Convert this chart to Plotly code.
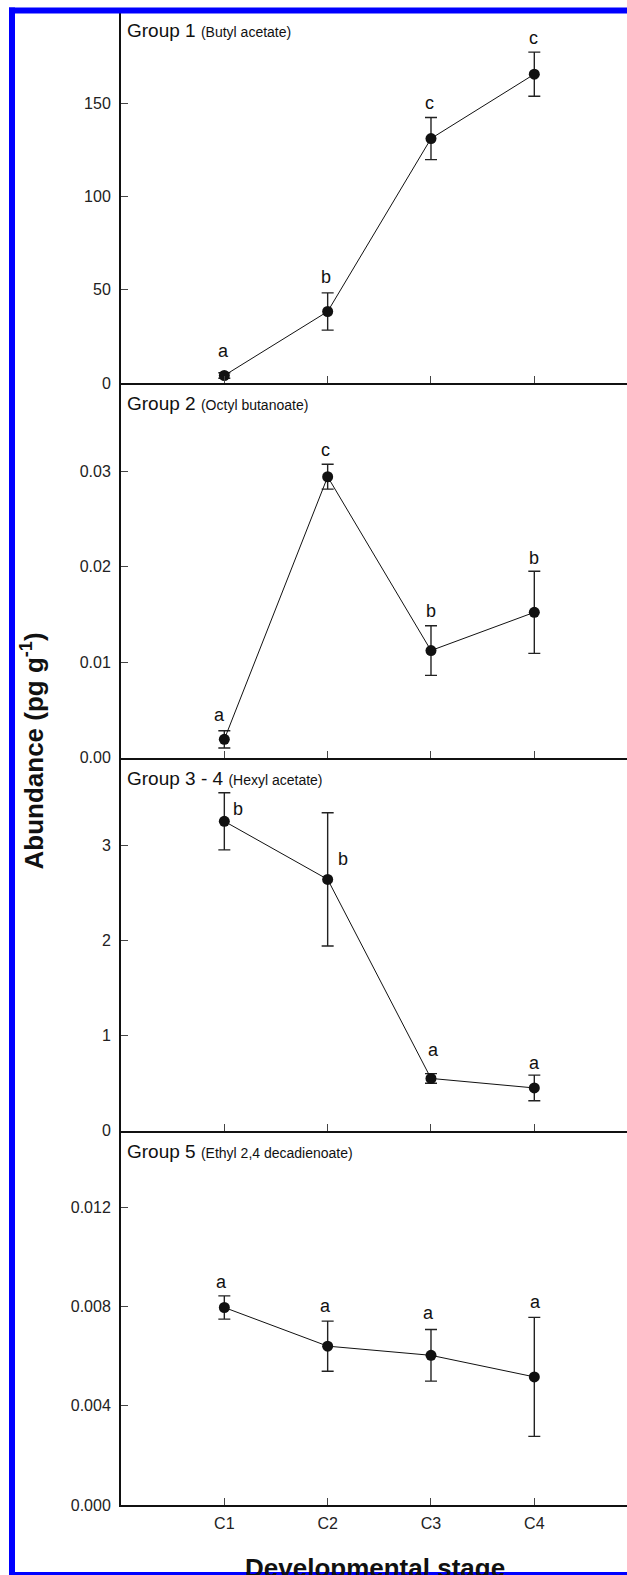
import plotly.graph_objects as go

# ---------------- data ----------------
stages = ["C1", "C2", "C3", "C4"]
stage_pos = [1, 2, 3, 4]

g1_mean = [4.1, 38.4, 131.1, 165.6]
g1_err = [1.5, 10.0, 11.3, 11.8]
g1_letters = ["a", "b", "c", "c"]

g2_mean = [0.0019, 0.0294, 0.0112, 0.0152]
g2_err = [0.0009, 0.0013, 0.0026, 0.0043]
g2_letters = ["a", "c", "b", "b"]

g34_mean = [3.25, 2.64, 0.55, 0.45]
g34_err = [0.30, 0.70, 0.05, 0.135]
g34_letters = ["b", "b", "a", "a"]

g5_mean = [0.00797, 0.00641, 0.00604, 0.00517]
g5_err = [0.00047, 0.00101, 0.00104, 0.0024]
g5_letters = ["a", "a", "a", "a"]

panel_names = ["Group 1", "Group 2", "Group 3 - 4", "Group 5"]
panel_compounds = ["(Butyl acetate)", "(Octyl butanoate)", "(Hexyl acetate)",
                   "(Ethyl 2,4 decadienoate)"]
y_ranges = [[0, 200], [0, 0.0392], [0, 3.92], [0, 0.0151]]
y_ticks = [[0, 50, 100, 150], [0, 0.01, 0.02, 0.03], [0, 1, 2, 3],
           [0, 0.004, 0.008, 0.012]]
y_fmt = ["d", ".2f", "d", ".3f"]

# ---------------- styling ----------------
FONT = "Liberation Sans, Arial, sans-serif"
means = [g1_mean, g2_mean, g34_mean, g5_mean]
errs = [g1_err, g2_err, g34_err, g5_err]
letters = [g1_letters, g2_letters, g34_letters, g5_letters]
letter_dx = [[-1, -2, -1, -1], [-5, -2, 0, 0], [14, 15, 3, 0], [-3, -2, -2, 1]]
letter_dy = [[22, 16, 14, 14], [16, 14, 15, 13], [-16, -46, 24, 12], [14, 15, 17, 15]]
domains = [[0.7504, 1.0], [0.5, 0.7504], [0.2503, 0.5], [0.0, 0.2503]]

W, H = 627, 1575
ML, MT, MB = 121, 9.5, 70
PW = W - ML
PH = H - MT - MB
PB = H - MB  # plot bottom in px


def px_x(fx):
    return (fx - ML) / PW


def px_y(fy):
    return (PB - fy) / PH


fig = go.Figure()
annotations = []

for i in range(4):
    n = i + 1
    xa = "x" if n == 1 else f"x{n}"
    ya = "y" if n == 1 else f"y{n}"
    fig.add_trace(go.Scatter(
        x=stage_pos, y=means[i], xaxis=xa, yaxis=ya,
        mode="lines+markers",
        line=dict(color="#111", width=1),
        marker=dict(color="#111", size=11),
        error_y=dict(type="data", array=errs[i], visible=True,
                     color="#222", thickness=1.4, width=6),
        showlegend=False, hoverinfo="skip",
    ))
    for j in range(4):
        annotations.append(dict(
            x=stage_pos[j], y=means[i][j] + errs[i][j], xref=xa, yref=ya,
            text=letters[i][j], showarrow=False,
            xanchor="center", yanchor="middle",
            xshift=letter_dx[i][j], yshift=letter_dy[i][j],
            font=dict(family=FONT, size=18, color="#111"),
        ))
    annotations.append(dict(
        x=0, y=1, xref=f"{xa} domain", yref=f"{ya} domain",
        text=f"{panel_names[i]} <span style='font-size:14px'>{panel_compounds[i]}</span>",
        showarrow=False, xanchor="left", yanchor="top", xshift=4, yshift=-8,
        font=dict(family=FONT, size=19, color="#111"),
    ))

    xkey = "xaxis" if n == 1 else f"xaxis{n}"
    ykey = "yaxis" if n == 1 else f"yaxis{n}"
    fig.layout[xkey] = dict(
        anchor=ya, domain=[0, 1], range=[0, 4.897],
        tickvals=stage_pos, ticktext=stages, showticklabels=(n == 4),
        ticks="inside", ticklen=7, tickwidth=1, tickcolor="#444",
        showline=True, linecolor="#111", linewidth=2,
        showgrid=False, zeroline=False, fixedrange=True,
        tickfont=dict(family=FONT, size=16, color="#222"),
        ticklabelstandoff=3,
    )
    fig.layout[ykey] = dict(
        anchor=xa, domain=domains[i], range=y_ranges[i],
        tickvals=y_ticks[i], tickformat=y_fmt[i],
        ticks="inside", ticklen=7, tickwidth=1, tickcolor="#444",
        showline=True, linecolor="#111", linewidth=2,
        showgrid=False, zeroline=False, fixedrange=True,
        tickfont=dict(family=FONT, size=16, color="#222"),
        ticklabelstandoff=5,
    )

# axis titles
annotations.append(dict(
    x=0, y=0.504, xref="paper", yref="paper", xanchor="center", yanchor="middle",
    xshift=-88, textangle=-90, showarrow=False,
    text="<b>Abundance (pg g<sup>-1</sup>)</b>",
    font=dict(family=FONT, size=26, color="#111"),
))
annotations.append(dict(
    x=px_x(375), y=0, xref="paper", yref="paper", xanchor="center", yanchor="top",
    yshift=-46, showarrow=False,
    text="<b>Developmental stage</b>",
    font=dict(family=FONT, size=26, color="#111"),
))

BLUE = "#0000ff"
border = [
    dict(x0=9, x1=15, y0=7, y1=1575),     # left bar
    dict(x0=9, x1=640, y0=7, y1=13),      # top bar
    dict(x0=9, x1=640, y0=1572, y1=1580),  # bottom bar
]
shapes = [dict(type="rect", xref="paper", yref="paper",
               x0=px_x(b["x0"]), x1=px_x(b["x1"]),
               y0=px_y(b["y1"]), y1=px_y(b["y0"]),
               line=dict(width=0), fillcolor=BLUE, layer="above")
          for b in border]

fig.update_layout(
    width=W, height=H,
    margin=dict(l=ML, r=0, t=MT, b=MB, pad=0),
    paper_bgcolor="white", plot_bgcolor="white",
    annotations=annotations,
    shapes=shapes,
)

fig.write_html("out.html",
               config={"displayModeBar": False, "staticPlot": True},
               post_script="document.body.style.margin='0';"
                           "document.body.style.overflow='hidden';")
